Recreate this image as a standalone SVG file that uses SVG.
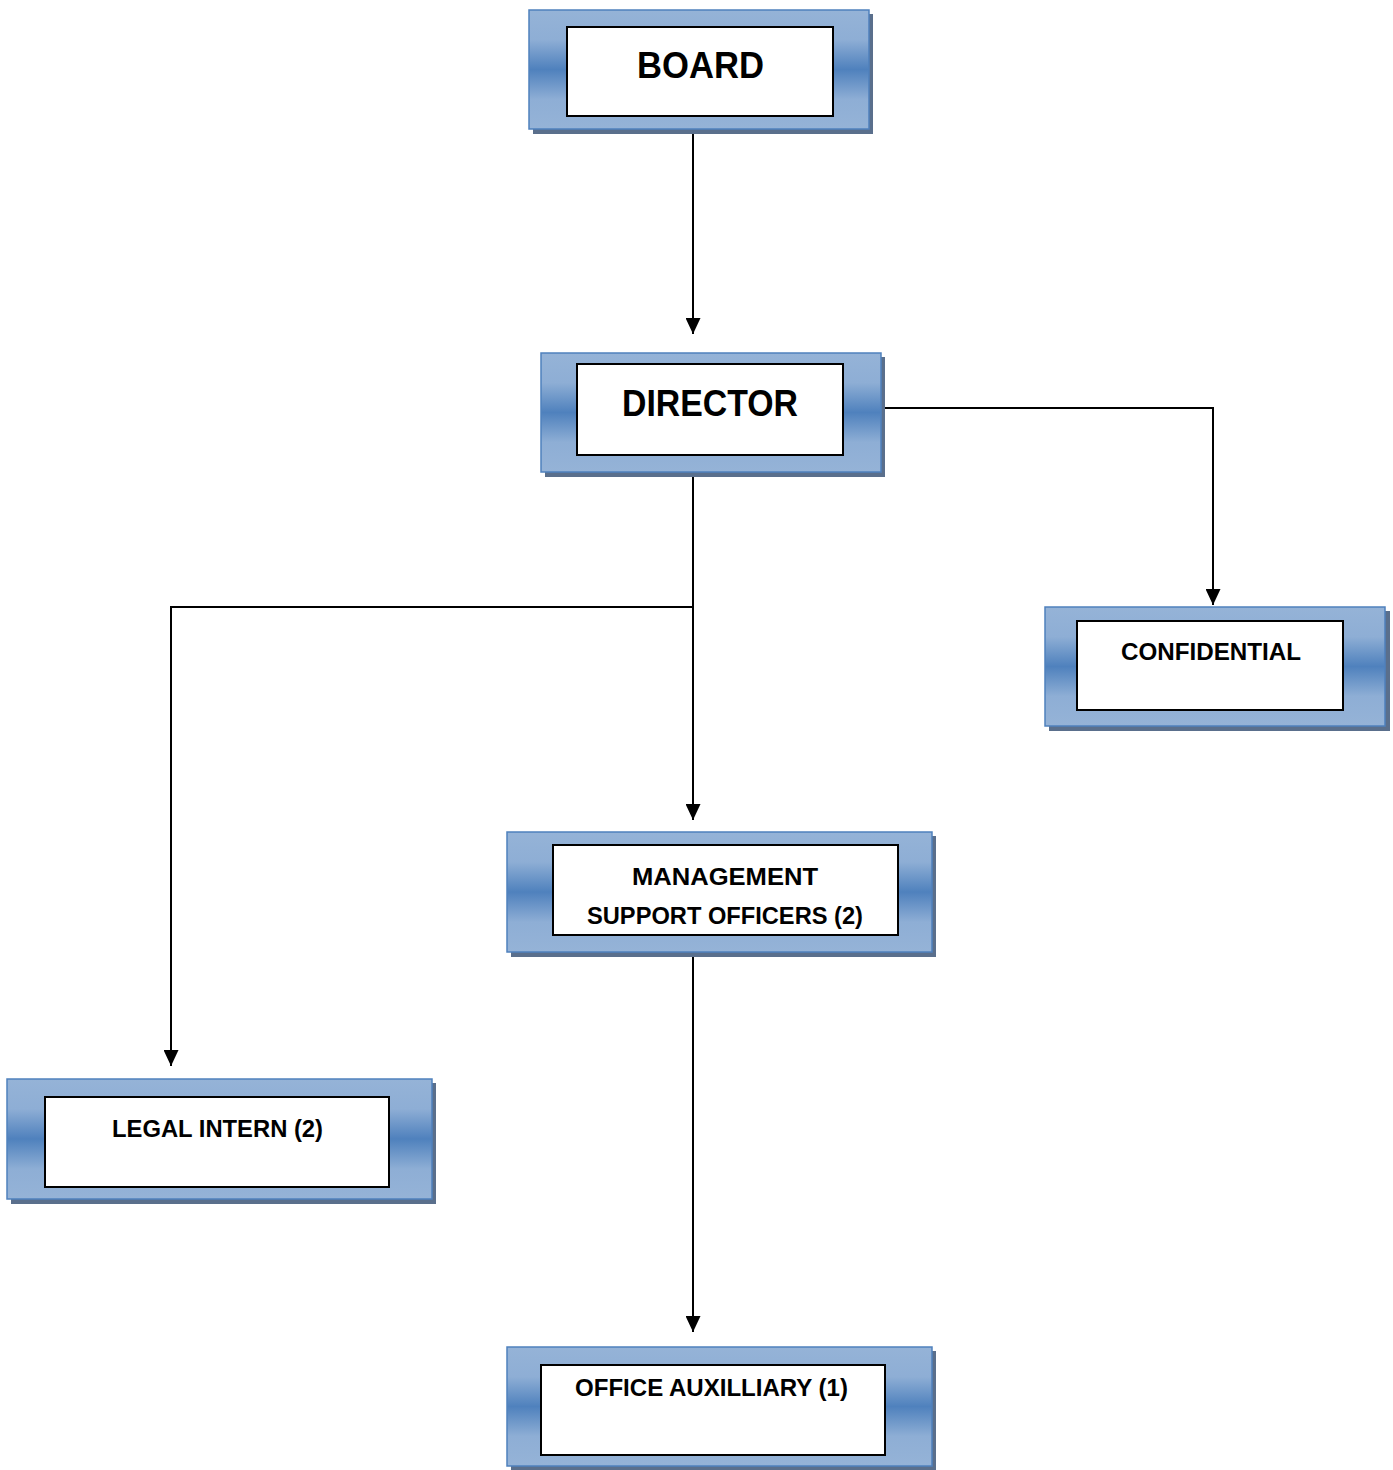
<svg xmlns="http://www.w3.org/2000/svg" width="1393" height="1470" viewBox="0 0 1393 1470">
<defs>
<linearGradient id="g" x1="0" y1="0" x2="0" y2="1">
<stop offset="0" stop-color="#95b3d7"/>
<stop offset="0.25" stop-color="#8eaed5"/>
<stop offset="0.5" stop-color="#4f81bd"/>
<stop offset="0.75" stop-color="#8eaed5"/>
<stop offset="1" stop-color="#95b3d7"/>
</linearGradient>
<marker id="ah" viewBox="0 0 16 15" refX="16" refY="7.5" markerWidth="16" markerHeight="15" markerUnits="userSpaceOnUse" orient="auto">
<path d="M0,0 L16,7.5 L0,15 Z" fill="#000"/>
</marker>
<style>
.sh{fill:#5a6f8c}
.out{fill:url(#g);stroke:#4f81bd;stroke-width:1.5}
.in{fill:#fff;stroke:#000;stroke-width:2}
.t{font-family:"Liberation Sans",Arial,sans-serif;font-weight:bold;fill:#000}
.c{fill:none;stroke:#000;stroke-width:2}
</style>
</defs>
<rect width="1393" height="1470" fill="#fff"/>
<g id="connectors">
<path class="c" d="M693,130 V334" marker-end="url(#ah)"/>
<path class="c" d="M882,408 H1213 V605" marker-end="url(#ah)"/>
<path class="c" d="M693,473 V820" marker-end="url(#ah)"/>
<path class="c" d="M693,607 H171 V1066" marker-end="url(#ah)"/>
<path class="c" d="M693,952 V1332" marker-end="url(#ah)"/>
</g>
<g id="board">
<rect class="sh" x="533" y="14" width="340" height="120"/>
<rect class="out" x="529" y="10" width="340" height="119"/>
<rect class="in" x="567" y="27" width="266" height="89"/>
<text class="t" x="637" y="78" font-size="36" textLength="127" lengthAdjust="spacingAndGlyphs">BOARD</text>
</g>
<g id="director">
<rect class="sh" x="545" y="357" width="340" height="120"/>
<rect class="out" x="541" y="353" width="340" height="119"/>
<rect class="in" x="577" y="364" width="266" height="91"/>
<text class="t" x="622" y="416" font-size="36" textLength="176" lengthAdjust="spacingAndGlyphs">DIRECTOR</text>
</g>
<g id="confidential">
<rect class="sh" x="1049" y="611" width="341" height="120"/>
<rect class="out" x="1045" y="607" width="340" height="119"/>
<rect class="in" x="1077" y="621" width="266" height="89"/>
<text class="t" x="1121" y="660" font-size="24" textLength="180" lengthAdjust="spacingAndGlyphs">CONFIDENTIAL</text>
</g>
<g id="management">
<rect class="sh" x="511" y="836" width="425" height="121"/>
<rect class="out" x="507" y="832" width="425" height="120"/>
<rect class="in" x="553" y="845" width="345" height="90"/>
<text class="t" x="632" y="885" font-size="24" textLength="186" lengthAdjust="spacingAndGlyphs">MANAGEMENT</text>
<text class="t" x="587" y="924" font-size="24" textLength="276" lengthAdjust="spacingAndGlyphs">SUPPORT OFFICERS (2)</text>
</g>
<g id="legal-intern">
<rect class="sh" x="11" y="1083" width="425" height="121"/>
<rect class="out" x="7" y="1079" width="425" height="120"/>
<rect class="in" x="45" y="1097" width="344" height="90"/>
<text class="t" x="112" y="1137" font-size="24" textLength="211" lengthAdjust="spacingAndGlyphs">LEGAL INTERN (2)</text>
</g>
<g id="office-auxilliary">
<rect class="sh" x="511" y="1351" width="425" height="119"/>
<rect class="out" x="507" y="1347" width="425" height="119"/>
<rect class="in" x="541" y="1365" width="344" height="90"/>
<text class="t" x="575" y="1396" font-size="24" textLength="273" lengthAdjust="spacingAndGlyphs">OFFICE AUXILLIARY (1)</text>
</g>
</svg>
